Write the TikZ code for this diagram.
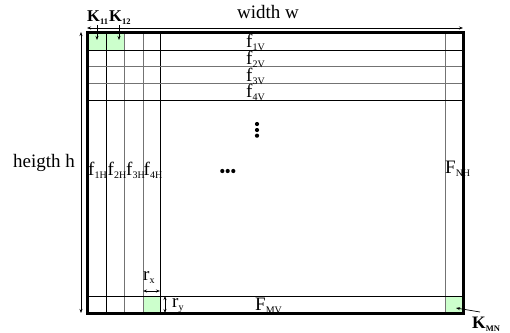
\documentclass[tikz,border=0pt]{standalone}
\usepackage{fontspec}
\setmainfont{Liberation Serif}
\usetikzlibrary{arrows.meta}
\definecolor{cellgreen}{HTML}{CCFFCC}
\newcommand\lowsub[1]{\raisebox{-3.5pt}{\fontsize{10}{10}\selectfont #1}}
\newcommand\lowsubb[1]{\raisebox{-3pt}{\fontsize{8.5}{9}\selectfont\bfseries #1}}
\begin{document}
\begin{tikzpicture}[x=1pt,y=-1pt,
  txt/.style={inner sep=0pt,anchor=base west,font=\fontsize{19}{21}\selectfont},
  ktxt/.style={inner sep=0pt,anchor=base west,font=\fontsize{16.5}{18}\selectfont\bfseries},
  gridline/.style={line width=0.8pt,draw=black},
  greyline/.style={line width=0.8pt,draw=black!55},
  dimarrow/.style={line width=0.7pt,{Stealth[length=4pt,width=3pt]}-{Stealth[length=4pt,width=3pt]}},
  ptr/.style={line width=0.7pt,-{Stealth[length=4pt,width=3pt]}},
  dot/.style={fill=black}]
\useasboundingbox (0,0) rectangle (510,332);
% green cells
\fill[cellgreen] (87,32) rectangle (124,50);
\fill[cellgreen] (143,296) rectangle (160,313);
\fill[cellgreen] (445,296) rectangle (463,313);
% grid lines
\draw[gridline] (106,32) -- (106,313);
\draw[greyline] (124,32) -- (124,313);
\draw[greyline] (143,32) -- (143,313);
\draw[gridline] (160,32) -- (160,313);
\draw[greyline] (445,32) -- (445,313);
\draw[gridline] (87,50) -- (463,50);
\draw[greyline] (87,66) -- (463,66);
\draw[greyline] (87,83) -- (463,83);
\draw[gridline] (87,100) -- (463,100);
\draw[gridline] (87,296) -- (463,296);
% outer frame
\draw[line width=3pt] (87,32) rectangle (463,313);
% dimension coordinates
\coordinate (wl) at (87,28); \coordinate (wr) at (463,28);
\coordinate (ht) at (81,32); \coordinate (hb) at (81,313);
\coordinate (rxl) at (143,291); \coordinate (rxr) at (160,291);
\coordinate (ryt) at (165,296); \coordinate (ryb) at (165,313);
\coordinate (c11) at (97,40); \coordinate (c12) at (119,40);
\coordinate (cmn) at (456,308);
\draw[dimarrow] (wl) -- (wr);
\draw[dimarrow] (ht) -- (hb);
\draw[dimarrow] (rxl) -- (rxr);
\draw[dimarrow] (ryt) -- (ryb);
% labels
\node[txt] (wlab) at (237,18) {width w};
\node[txt] (hlab) at (13,167) {heigth h};
\node[ktxt] (k11) at (87,21) {K\lowsubb{11}};
\node[ktxt] (k12) at (109,21) {K\lowsubb{12}};
\node[ktxt,font=\fontsize{17.5}{19}\selectfont\bfseries] (kmn) at (472,328) {K\lowsubb{MN}};
\node[txt] (f1v) at (246,47) {f\lowsub{1V}};
\node[txt] (f2v) at (246,64) {f\lowsub{2V}};
\node[txt] (f3v) at (246,81) {f\lowsub{3V}};
\node[txt] (f4v) at (246,97) {f\lowsub{4V}};
\node[txt] (f1h) at (88,175) {f\lowsub{1H}};
\node[txt] (f2h) at (107.5,175) {f\lowsub{2H}};
\node[txt] (f3h) at (126,175) {f\lowsub{3H}};
\node[txt] (f4h) at (143.5,175) {f\lowsub{4H}};
\node[txt] (fnh) at (445,173) {F\lowsub{NH}};
\node[txt] (fmv) at (255,310) {F\lowsub{MV}};
\node[txt] (rx) at (143,280) {r\lowsub{x}};
\node[txt] (ry) at (172,307) {r\lowsub{y}};
% pointers
\draw[ptr] (97,25) -- (c11);
\draw[ptr] (119,25) -- (c12);
\draw[ptr] (480,312) -- (cmn);
% dots
\fill[dot] (257,124) circle (2.1);
\fill[dot] (257,130) circle (2.1);
\fill[dot] (257,135.7) circle (2.1);
\fill[dot] (222.3,171) circle (2.1);
\fill[dot] (227.7,171) circle (2.1);
\fill[dot] (233.3,171) circle (2.1);
\end{tikzpicture}
\end{document}
